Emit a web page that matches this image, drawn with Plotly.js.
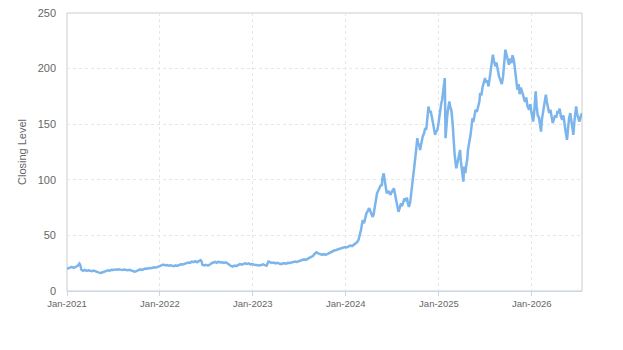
<!DOCTYPE html>
<html>
<head>
<meta charset="utf-8">
<script src="https://cdn.plot.ly/plotly-3.0.1.min.js"></script>
<style>
  html, body { margin: 0; padding: 0; background: #ffffff; }
  #chart { width: 623px; height: 350px; }
</style>
</head>
<body>
<div id="chart"></div>
<script>
// Closing level, sampled dates and values
const dates = [
  '2021-01-01','2021-01-12','2021-01-20','2021-01-28','2021-02-05','2021-02-12','2021-02-19','2021-02-23','2021-02-26',
  '2021-03-05','2021-03-12','2021-03-19','2021-03-26','2021-04-02','2021-04-09','2021-04-16','2021-04-23','2021-04-30',
  '2021-05-07','2021-05-14','2021-05-21','2021-05-28','2021-06-04','2021-06-11','2021-06-18','2021-06-25','2021-07-02',
  '2021-07-09','2021-07-16','2021-07-23','2021-07-30','2021-08-06','2021-08-13','2021-08-20','2021-08-27','2021-09-03',
  '2021-09-10','2021-09-17','2021-09-24','2021-10-01','2021-10-08','2021-10-15','2021-10-22','2021-10-29','2021-11-05',
  '2021-11-12','2021-11-19','2021-11-26','2021-12-03','2021-12-10','2021-12-17','2021-12-24','2021-12-31',
  '2022-01-07','2022-01-14','2022-01-21','2022-01-28','2022-02-04','2022-02-11','2022-02-18','2022-02-25','2022-03-04',
  '2022-03-11','2022-03-18','2022-03-25','2022-04-01','2022-04-08','2022-04-15','2022-04-22','2022-04-29','2022-05-06',
  '2022-05-13','2022-05-20','2022-05-27','2022-06-03','2022-06-10','2022-06-14','2022-06-17','2022-06-24','2022-07-01',
  '2022-07-08','2022-07-15','2022-07-22','2022-07-29','2022-08-05','2022-08-12','2022-08-19','2022-08-26','2022-09-02',
  '2022-09-09','2022-09-16','2022-09-23','2022-09-30','2022-10-07','2022-10-14','2022-10-21','2022-10-28','2022-11-04',
  '2022-11-11','2022-11-18','2022-11-25','2022-12-02','2022-12-09','2022-12-16','2022-12-23','2022-12-30',
  '2023-01-06','2023-01-13','2023-01-20','2023-01-27','2023-02-03','2023-02-10','2023-02-17','2023-02-24','2023-03-03',
  '2023-03-10','2023-03-17','2023-03-24','2023-03-31','2023-04-07','2023-04-14','2023-04-21','2023-04-28','2023-05-05',
  '2023-05-12','2023-05-19','2023-05-26','2023-06-02','2023-06-09','2023-06-16','2023-06-23','2023-06-30','2023-07-07',
  '2023-07-14','2023-07-21','2023-07-28','2023-08-04','2023-08-11','2023-08-18','2023-08-25','2023-09-01','2023-09-08',
  '2023-09-15','2023-09-22','2023-09-29','2023-10-06','2023-10-13','2023-10-20','2023-10-27','2023-11-03','2023-11-10',
  '2023-11-17','2023-11-24','2023-12-01','2023-12-08','2023-12-15','2023-12-22','2023-12-29',
  '2024-01-05','2024-01-12','2024-01-19','2024-01-26','2024-02-02','2024-02-09','2024-02-14','2024-02-20','2024-02-26',
  '2024-03-01','2024-03-05','2024-03-08','2024-03-13','2024-03-18','2024-03-22','2024-03-27','2024-04-01','2024-04-05',
  '2024-04-10','2024-04-15','2024-04-19','2024-04-24','2024-04-29','2024-05-03','2024-05-08','2024-05-13','2024-05-17',
  '2024-05-22','2024-05-24','2024-05-29','2024-06-03','2024-06-06','2024-06-10','2024-06-14','2024-06-19','2024-06-24',
  '2024-06-28','2024-07-03','2024-07-08','2024-07-12','2024-07-17','2024-07-22','2024-07-26','2024-07-31','2024-08-05',
  '2024-08-09','2024-08-14','2024-08-19','2024-08-23','2024-08-28','2024-09-02','2024-09-05','2024-09-10','2024-09-13',
  '2024-09-17','2024-09-20','2024-09-25','2024-09-30','2024-10-04','2024-10-08','2024-10-11','2024-10-15','2024-10-19',
  '2024-10-24','2024-10-29','2024-11-04','2024-11-08','2024-11-12','2024-11-16','2024-11-21','2024-11-25','2024-11-29',
  '2024-12-04','2024-12-09','2024-12-13','2024-12-17','2024-12-20','2024-12-26','2024-12-31',
  '2025-01-03','2025-01-07','2025-01-10','2025-01-14','2025-01-17','2025-01-21','2025-01-24','2025-01-27','2025-01-30',
  '2025-02-03','2025-02-07','2025-02-11','2025-02-14','2025-02-19','2025-02-24','2025-02-27','2025-03-03','2025-03-06',
  '2025-03-10','2025-03-14','2025-03-18','2025-03-21','2025-03-25','2025-03-28','2025-04-02','2025-04-04','2025-04-07',
  '2025-04-10','2025-04-15','2025-04-18','2025-04-22','2025-04-25','2025-04-30','2025-05-05','2025-05-09','2025-05-13',
  '2025-05-16','2025-05-21','2025-05-25','2025-05-30','2025-06-04','2025-06-09','2025-06-12','2025-06-17','2025-06-21',
  '2025-06-26','2025-07-01','2025-07-04','2025-07-09','2025-07-15','2025-07-18','2025-07-23','2025-07-28','2025-08-01',
  '2025-08-05','2025-08-11','2025-08-15','2025-08-20','2025-08-25','2025-08-29','2025-09-02','2025-09-05','2025-09-10',
  '2025-09-15','2025-09-19','2025-09-24','2025-09-29','2025-10-03','2025-10-08','2025-10-13','2025-10-17','2025-10-22',
  '2025-10-27','2025-10-31','2025-11-05','2025-11-10','2025-11-14','2025-11-19','2025-11-25','2025-11-30','2025-12-05',
  '2025-12-10','2025-12-15','2025-12-21','2025-12-26','2025-12-31',
  '2026-01-06','2026-01-10','2026-01-13','2026-01-16','2026-01-20','2026-01-24','2026-01-29','2026-02-03','2026-02-06',
  '2026-02-10','2026-02-14','2026-02-18','2026-02-22','2026-02-25','2026-03-01','2026-03-05','2026-03-10','2026-03-15',
  '2026-03-20','2026-03-24','2026-03-28','2026-04-02','2026-04-07','2026-04-12','2026-04-16','2026-04-20','2026-04-25',
  '2026-04-30','2026-05-05','2026-05-09','2026-05-14','2026-05-19','2026-05-23','2026-05-27','2026-06-01','2026-06-05',
  '2026-06-09','2026-06-13','2026-06-17','2026-06-21','2026-06-24','2026-06-28','2026-07-02','2026-07-07','2026-07-12',
  '2026-07-17'
];

const closing = [
  20.0,21.2,21.8,20.9,21.5,22.6,24.6,22.8,19.3,
  18.2,19.0,18.1,18.6,18.3,17.9,18.4,17.6,17.1,
  16.5,16.3,16.9,17.4,17.9,18.6,18.3,19.0,18.8,
  19.4,19.1,19.6,19.2,18.9,19.3,19.0,18.6,19.1,
  18.7,17.9,17.3,17.8,18.6,19.4,19.0,19.8,20.2,
  20.0,20.6,20.4,21.0,21.3,21.1,21.8,22.4,
  23.3,23.8,23.1,23.4,22.8,23.2,22.7,22.4,23.0,
  22.6,23.4,24.0,23.8,24.3,24.9,25.6,25.2,26.4,
  26.0,26.8,25.9,27.2,27.7,26.5,23.5,23.0,23.6,
  22.9,23.4,24.8,25.8,26.1,25.4,26.3,25.6,25.9,
  25.2,25.7,24.9,23.5,22.5,22.0,22.8,22.3,23.4,
  24.2,23.6,24.6,24.9,24.3,24.8,23.9,24.2,
  23.6,23.2,23.5,23.0,23.4,23.9,23.3,22.8,26.4,
  25.8,25.2,25.5,24.8,25.3,24.6,24.1,24.7,25.0,
  24.6,25.4,25.2,25.6,25.9,26.4,26.1,26.8,27.2,
  27.8,28.4,28.0,29.2,29.8,30.6,31.4,33.6,34.8,
  33.9,33.0,32.6,33.1,32.4,33.2,34.2,35.0,35.6,
  36.4,36.9,37.3,38.0,38.4,38.9,39.6,
  39.2,40.1,40.8,40.4,41.5,42.2,43.8,45.9,50.2,
  55.0,60.5,63.8,61.0,66.2,69.8,71.5,74.4,73.0,
  70.2,66.7,68.5,76.0,82.5,88.0,90.4,92.3,94.8,
  95.3,101.5,105.8,97.5,91.0,87.8,89.6,89.3,86.5,
  87.8,90.5,92.3,88.0,80.3,76.5,71.2,74.6,78.8,
  76.4,80.2,83.3,81.0,84.0,77.8,75.7,79.5,84.8,
  92.0,99.8,110.5,119.4,128.0,137.4,133.0,131.5,126.9,
  132.5,138.8,142.0,146.5,144.9,152.0,165.9,160.5,162.0,
  157.0,150.2,145.5,140.4,142.8,144.9,152.0,
  158.5,163.0,168.5,172.5,178.0,185.5,191.5,137.4,150.0,
  158.5,165.0,170.4,166.0,162.5,150.0,132.9,125.0,118.0,
  110.4,114.5,120.5,124.0,126.9,117.0,108.0,103.5,98.3,
  112.0,106.0,112.5,118.0,126.9,132.0,140.0,147.9,155.5,
  152.0,158.0,163.0,161.0,166.5,170.5,178.0,176.0,183.0,
  187.0,191.5,187.5,189.5,184.0,190.0,198.0,205.0,212.5,
  207.0,202.0,205.5,198.0,193.0,190.5,188.5,186.0,193.0,
  205.0,217.0,212.0,206.0,203.5,209.0,205.0,212.0,208.0,
  199.0,192.0,181.0,186.0,177.0,183.0,178.0,172.0,170.0,
  174.0,166.0,163.0,168.0,160.0,
  152.4,160.0,170.0,179.5,166.0,158.0,156.0,149.0,143.4,
  155.0,160.0,168.0,172.0,176.5,170.0,166.0,160.0,163.0,
  156.0,151.0,154.0,158.0,156.0,162.0,160.0,164.0,157.0,
  154.0,158.0,150.0,143.0,136.0,147.0,155.0,160.0,152.0,
  146.0,140.4,152.0,160.0,166.0,159.0,155.0,152.4,157.0,
  160.0
];

const yTicks = [0, 50, 100, 150, 200, 250];
const xTicks = ['2021-01-01','2022-01-01','2023-01-01','2024-01-01','2025-01-01','2026-01-01'];
const xTickLabels = ['Jan-2021','Jan-2022','Jan-2023','Jan-2024','Jan-2025','Jan-2026'];

const trace = {
  x: dates,
  y: closing,
  type: 'scatter',
  mode: 'lines',
  line: { color: '#7cb5ec', width: 2.5 },
  hoverinfo: 'skip',
  showlegend: false
};

const layout = {
  width: 623,
  height: 350,
  margin: { l: 67, r: 41, t: 13, b: 59, autoexpand: false },
  paper_bgcolor: '#ffffff',
  plot_bgcolor: '#ffffff',
  font: { family: 'Liberation Sans, Arial, sans-serif', color: '#666666' },
  xaxis: {
    type: 'date',
    range: [dates[0], dates[dates.length - 1]],
    tickmode: 'array',
    tickvals: xTicks,
    ticktext: xTickLabels,
    tickfont: { size: 9.5, color: '#666666' },
    showgrid: true,
    gridcolor: '#e6e6e6',
    griddash: '3px,3px',
    gridwidth: 1,
    showline: true,
    linecolor: '#ccd6eb',
    linewidth: 1,
    ticks: 'outside',
    ticklen: 4,
    tickcolor: '#ccd6eb',
    zeroline: false,
    automargin: false,
    fixedrange: true
  },
  yaxis: {
    range: [0, 250],
    tickmode: 'array',
    tickvals: yTicks,
    tickfont: { size: 11, color: '#666666' },
    ticklabelstandoff: 10,
    showgrid: true,
    gridcolor: '#e6e6e6',
    griddash: '3px,3px',
    gridwidth: 1,
    showline: false,
    zeroline: false,
    ticks: '',
    automargin: false,
    fixedrange: true,
    title: {
      text: 'Closing Level',
      font: { size: 11, color: '#666666' },
      standoff: 8
    }
  },
  shapes: [{
    type: 'rect', xref: 'paper', yref: 'paper',
    x0: 0, x1: 1, y0: 0, y1: 1,
    line: { color: '#cccccc', width: 1 },
    fillcolor: 'rgba(0,0,0,0)',
    layer: 'below'
  }]
};

Plotly.newPlot('chart', [trace], layout, { staticPlot: true, displayModeBar: false });
</script>
</body>
</html>
